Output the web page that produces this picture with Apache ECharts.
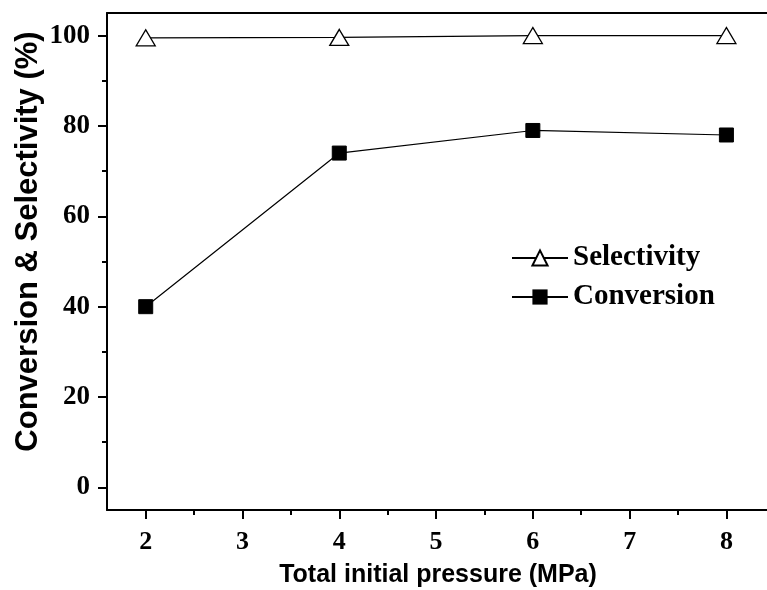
<!DOCTYPE html>
<html><head><meta charset="utf-8">
<script src="https://cdn.jsdelivr.net/npm/echarts@6/dist/echarts.min.js"></script>
<style>html,body{margin:0;padding:0;background:#fff}#c{width:767px;height:590px}</style>
</head><body><div id="c"></div>
<script>
const pressure = [2, 4, 6, 8];
const selectivity = [99.5, 99.6, 100, 100];
const conversion = [40, 74, 79, 78];
const xTicks = [2, 3, 4, 5, 6, 7, 8];
const xMinorTicks = [2.5, 3.5, 4.5, 5.5, 6.5, 7.5];
const yTicks = [0, 20, 40, 60, 80, 100];
const yMinorTicks = [10, 30, 50, 70, 90];

const X_MIN = 1.6, X_MAX = 8.44, Y_MIN = -5, Y_MAX = 105;
const chart = echarts.init(document.getElementById('c'));
const serifBold = {fontFamily: 'Liberation Serif', fontWeight: 'bold', color: '#000'};
const axisLn = {color: '#000', width: 2};
chart.setOption({
  animation: false,
  grid: {left: 107, top: 13, width: 662, height: 497, containLabel: false, outerBoundsMode: 'none'},
  legend: {
    left: 506, top: 238, orient: 'vertical', itemWidth: 56, itemHeight: 19, itemGap: 9,
    textStyle: Object.assign({fontSize: 29, lineHeight: 30, padding: [0,0,0,0]}, serifBold),
    data: ['Selectivity', 'Conversion']
  },
  xAxis: [{
    type: 'value', min: X_MIN, max: X_MAX,
    axisLine: {onZero: false, lineStyle: axisLn},
    axisTick: {show: true, length: 9, lineStyle: axisLn, customValues: xTicks},
    minorTick: {show: false},
    axisLabel: Object.assign({fontSize: 26, margin: 19, customValues: xTicks, formatter: v => String(v)}, serifBold),
    splitLine: {show: false},
    name: 'Total initial pressure (MPa)', nameLocation: 'middle', nameGap: 53,
    nameTextStyle: {fontFamily: 'Liberation Sans', fontWeight: 'bold', fontSize: 25, color: '#000'}
  }, {
    type: 'value', position: 'top', min: X_MIN, max: X_MAX,
    axisLine: {show: true, onZero: false, lineStyle: axisLn},
    axisTick: {show: false}, axisLabel: {show: false}, splitLine: {show: false}
  }, {
    type: 'value', position: 'bottom', min: X_MIN, max: X_MAX,
    axisLine: {show: false, onZero: false},
    axisTick: {show: true, length: 5, lineStyle: axisLn, customValues: xMinorTicks},
    axisLabel: {show: false}, splitLine: {show: false}
  }],
  yAxis: [{
    type: 'value', min: Y_MIN, max: Y_MAX,
    axisLine: {onZero: false, lineStyle: axisLn},
    axisTick: {show: true, length: 9, lineStyle: axisLn, customValues: yTicks},
    minorTick: {show: false},
    axisLabel: Object.assign({fontSize: 27, margin: 17, customValues: yTicks}, serifBold),
    splitLine: {show: false},
    name: 'Conversion & Selectivity (%)', nameLocation: 'middle', nameGap: 63, nameMoveOverlap: false,
    nameTextStyle: {fontFamily: 'Liberation Sans', fontWeight: 'bold', fontSize: 31, color: '#000', padding: [0,0,0,40]}
  }, {
    type: 'value', position: 'left', min: Y_MIN, max: Y_MAX,
    axisLine: {show: false, onZero: false},
    axisTick: {show: true, length: 5, lineStyle: axisLn, customValues: yMinorTicks},
    axisLabel: {show: false}, splitLine: {show: false}
  }],
  series: [{
    name: 'Selectivity', type: 'line',
    data: pressure.map((p, i) => [p, selectivity[i]]),
    symbol: 'triangle', symbolSize: [19, 16],
    lineStyle: {color: '#000', width: 1.2},
    itemStyle: {color: '#fff', borderColor: '#000', borderWidth: 1.3}
  }, {
    name: 'Conversion', type: 'line',
    data: pressure.map((p, i) => [p, conversion[i]]),
    symbol: 'rect', symbolSize: 14,
    lineStyle: {color: '#000', width: 1.2},
    itemStyle: {color: '#000', borderColor: '#000'}
  }]
});
</script></body></html>
